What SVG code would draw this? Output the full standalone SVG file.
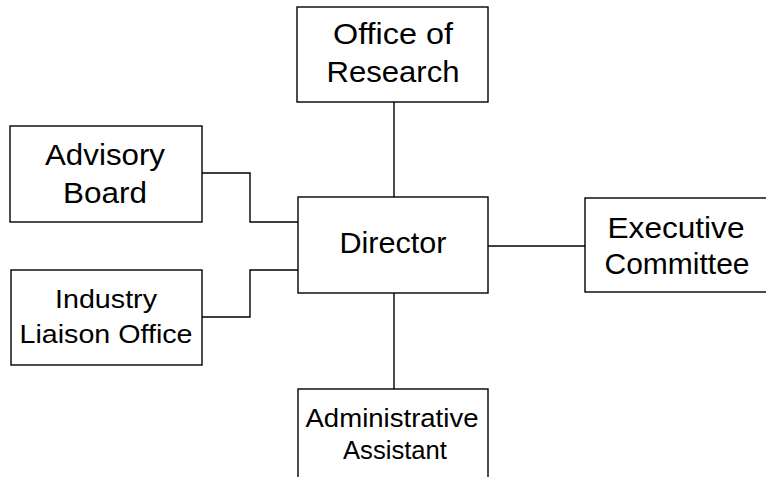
<svg xmlns="http://www.w3.org/2000/svg" width="766" height="477" viewBox="0 0 766 477">
<style>
.box{fill:#fff;stroke:#000;stroke-width:1.4}
.conn{fill:none;stroke:#000;stroke-width:1.4}
.t{font-family:"Liberation Sans",Arial,sans-serif;font-size:29px;fill:#000;text-anchor:middle}
.s{font-size:26px}
</style>
<rect width="766" height="477" fill="#fff"/>
<g id="connectors">
<path class="conn" d="M394 102V197"/>
<path class="conn" d="M202 173H250V222H298"/>
<path class="conn" d="M202 317H250V270H298"/>
<path class="conn" d="M488 246H585"/>
<path class="conn" d="M394 293V389"/>
</g>
<g id="office">
<rect class="box" x="297" y="7" width="191" height="95"/>
<text class="t" x="393" y="44" textLength="120" lengthAdjust="spacingAndGlyphs">Office of</text>
<text class="t" x="393" y="82" textLength="133" lengthAdjust="spacingAndGlyphs">Research</text>
</g>
<g id="advisory">
<rect class="box" x="10" y="126" width="192" height="96"/>
<text class="t" x="105" y="165" textLength="120" lengthAdjust="spacingAndGlyphs">Advisory</text>
<text class="t" x="105" y="203" textLength="84" lengthAdjust="spacingAndGlyphs">Board</text>
</g>
<g id="director">
<rect class="box" x="298" y="197" width="190" height="96"/>
<text class="t" x="393" y="253" textLength="107" lengthAdjust="spacingAndGlyphs">Director</text>
</g>
<g id="industry">
<rect class="box" x="11" y="270" width="191" height="95"/>
<text class="t s" x="106" y="308" textLength="102" lengthAdjust="spacingAndGlyphs">Industry</text>
<text class="t s" x="106" y="343" textLength="173" lengthAdjust="spacingAndGlyphs">Liaison Office</text>
</g>
<g id="executive">
<rect class="box" x="585" y="198" width="200" height="94"/>
<text class="t" x="676" y="238" textLength="137" lengthAdjust="spacingAndGlyphs">Executive</text>
<text class="t" x="677" y="274" textLength="145" lengthAdjust="spacingAndGlyphs">Committee</text>
</g>
<g id="admin">
<rect class="box" x="298" y="389" width="190" height="100"/>
<text class="t s" x="392" y="427" textLength="173" lengthAdjust="spacingAndGlyphs">Administrative</text>
<text class="t s" x="395" y="459" textLength="104" lengthAdjust="spacingAndGlyphs">Assistant</text>
</g>
</svg>
